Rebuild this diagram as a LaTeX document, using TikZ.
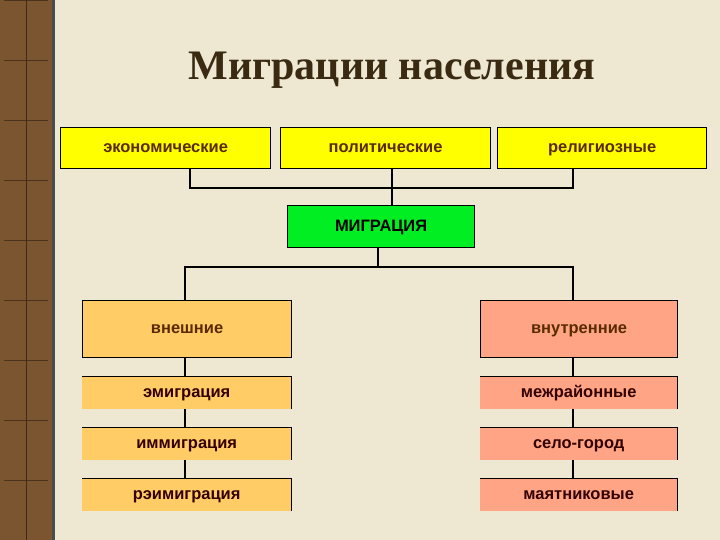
\documentclass[tikz,border=0pt]{standalone}
\usepackage{fontspec}
\setmainfont{Liberation Sans}
\newfontfamily\titlefont{Liberation Serif}
\definecolor{bg}{HTML}{EEE8D2}
\definecolor{strip}{HTML}{7A5530}
\definecolor{yel}{HTML}{FFFF00}
\definecolor{grn}{HTML}{00EE22}
\definecolor{org}{HTML}{FFCC66}
\definecolor{sal}{HTML}{FFA585}
\definecolor{txt}{HTML}{5A2A00}
\definecolor{ttl}{HTML}{3A2A12}
\begin{document}
\begin{tikzpicture}[x=1pt,y=-1pt,
  bigbox/.style={draw=black,line width=1.2pt,anchor=north west,inner sep=0pt,text height=11pt,text depth=2pt,font=\bfseries\fontsize{16.5}{18}\selectfont,text=txt},
  smallbox/.style={anchor=north west,inner sep=0pt,text height=11pt,text depth=2pt,font=\bfseries\fontsize{16.5}{18}\selectfont,text=black!80!red},
  conn/.style={line width=1.5pt}]
\useasboundingbox (0,0) rectangle (720,540);
\fill[bg] (0,0) rectangle (720,540);
\fill[strip] (0,0) rectangle (52,540);
\foreach \y in {0,60,...,540} \draw[strip!60!black,line width=0.6pt] (4,\y) -- (48,\y);
\draw[strip!50!black,line width=0.6pt] (26,0) -- (26,540);
\fill[black!70] (52,0) rectangle (55,540);
\node[font=\titlefont\bfseries\fontsize{42}{48}\selectfont,text=ttl] (title) at (392,70) {Миграции населения};
\node[bigbox,fill=yel,minimum width=210pt,minimum height=41pt] (ec) at (60,127) {экономические};
\node[bigbox,fill=yel,minimum width=210pt,minimum height=41pt] (po) at (280,127) {политические};
\node[bigbox,fill=yel,minimum width=209pt,minimum height=41pt] (re) at (497,127) {религиозные};
\node[bigbox,fill=grn,minimum width=187pt,minimum height=42pt,text=black] (mi) at (287,205) {МИГРАЦИЯ};
\node[bigbox,fill=org,minimum width=209pt,minimum height=57pt] (vn) at (82,300) {внешние};
\node[bigbox,fill=sal,minimum width=197pt,minimum height=57pt] (vt) at (480,300) {внутренние};
\foreach \n/\y/\t in {l1/376/эмиграция,l2/427/иммиграция,l3/478/рэимиграция}{
  \node[smallbox,fill=org,minimum width=209pt,minimum height=33pt] (\n) at (82,\y) {\t};
  \draw[line width=0.8pt] (\n.north west) -- (\n.north east) -- (\n.south east);}
\foreach \n/\y/\t in {r1/376/межрайонные,r2/427/село-город,r3/478/маятниковые}{
  \node[smallbox,fill=sal,minimum width=197pt,minimum height=33pt] (\n) at (480,\y) {\t};
  \draw[line width=0.8pt] (\n.north west) -- (\n.north east) -- (\n.south east);}
\coordinate (j1) at (392,188);
\coordinate (j2) at (378,267);
\draw[conn] (ec.south -| 190,0) |- (j1) -| (re.south -| 573,0);
\draw[conn] (po.south -| 392,0) -- (j1) -- (mi.north -| 392,0);
\draw[conn] (mi.south -| 378,0) -- (j2);
\draw[conn] (vn.north -| 185,0) |- (j2) -| (vt.north -| 573,0);
\draw[conn] (vn.south -| 185,0) -- (l1.north -| 185,0);
\draw[conn] (l1.south -| 185,0) -- (l2.north -| 185,0);
\draw[conn] (l2.south -| 185,0) -- (l3.north -| 185,0);
\draw[conn] (vt.south -| 573,0) -- (r1.north -| 573,0);
\draw[conn] (r1.south -| 573,0) -- (r2.north -| 573,0);
\draw[conn] (r2.south -| 573,0) -- (r3.north -| 573,0);
\end{tikzpicture}
\end{document}
